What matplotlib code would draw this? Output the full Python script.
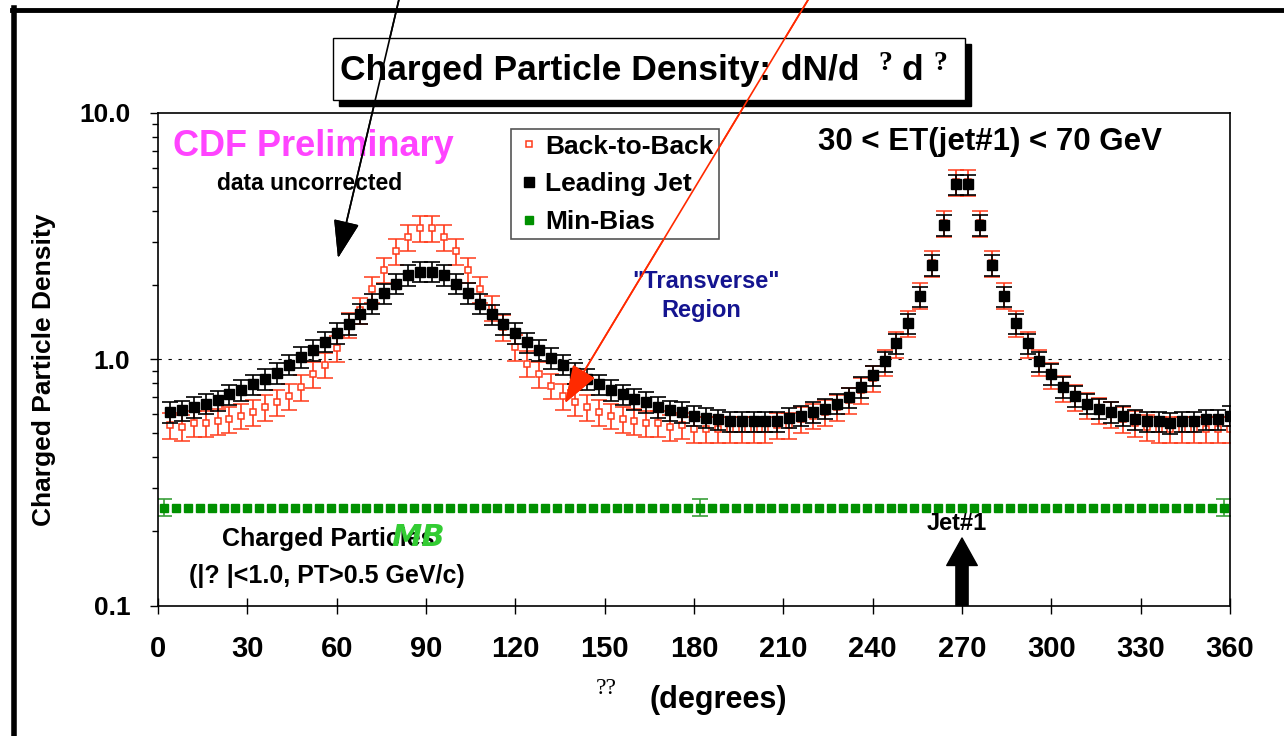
import matplotlib
matplotlib.use("Agg")
import matplotlib.pyplot as plt
from matplotlib.lines import Line2D
from matplotlib.patches import Rectangle

# data
phi = list(range(4, 361, 4))
leading_jet = [0.61, 0.62, 0.64, 0.66, 0.68, 0.72, 0.75, 0.79, 0.83, 0.88,
               0.95, 1.02, 1.09, 1.18, 1.28, 1.39, 1.53, 1.68, 1.85, 2.03,
               2.20, 2.27, 2.27, 2.20, 2.03, 1.86, 1.68, 1.52, 1.39, 1.28,
               1.17, 1.09, 1.01, 0.95, 0.88, 0.83, 0.79, 0.75, 0.72, 0.69,
               0.67, 0.64, 0.62, 0.61, 0.59, 0.58, 0.57, 0.56, 0.56, 0.56,
               0.56, 0.56, 0.58, 0.59, 0.61, 0.63, 0.66, 0.70, 0.77, 0.86,
               0.98, 1.16, 1.40, 1.80, 2.41, 3.51, 5.13, 5.13, 3.51, 2.41,
               1.80, 1.40, 1.16, 0.98, 0.87, 0.77, 0.71, 0.66, 0.63, 0.61,
               0.59, 0.57, 0.56, 0.56, 0.55, 0.56, 0.56, 0.57, 0.57, 0.59]
back_to_back = [0.54, 0.53, 0.55, 0.55, 0.56, 0.57, 0.59, 0.61, 0.64, 0.67,
                0.71, 0.77, 0.87, 0.95, 1.11, 1.38, 1.58, 1.93, 2.31, 2.75,
                3.14, 3.41, 3.41, 3.14, 2.75, 2.31, 1.93, 1.62, 1.35, 1.12,
                0.96, 0.87, 0.78, 0.71, 0.67, 0.64, 0.61, 0.59, 0.57, 0.56,
                0.55, 0.55, 0.53, 0.54, 0.52, 0.52, 0.52, 0.52, 0.52, 0.52,
                0.52, 0.54, 0.54, 0.57, 0.59, 0.61, 0.64, 0.68, 0.75, 0.84,
                0.97, 1.15, 1.40, 1.82, 2.45, 3.58, 5.25, 5.25, 3.58, 2.45,
                1.82, 1.40, 1.15, 0.97, 0.86, 0.76, 0.70, 0.65, 0.62, 0.60,
                0.57, 0.55, 0.53, 0.52, 0.52, 0.52, 0.52, 0.52, 0.52, 0.52]
jet_rel_err = 0.095
b2b_rel_err = 0.12

phi_mb = list(range(2, 360, 4))
min_bias = [0.25] * len(phi_mb)
phi_mb_err = [2, 182, 358]
min_bias_err = [0.25, 0.25, 0.25]
mb_err = 0.02

xticks = list(range(0, 361, 30))
yticks = [0.1, 1.0, 10.0]
ytick_labels = ["0.1", "1.0", "10.0"]

SANS = "Liberation Sans"

W, H = 1284, 736
fig = plt.figure(figsize=(W / 100, H / 100), dpi=100)
ax = fig.add_axes([158 / W, 1 - 605.5 / H, 1072 / W, 492.5 / H])


def apx(x, y):
    return ((x - 158) / 1072, (605.5 - y) / 492.5)


def fpx(x, y):
    return (x / W, 1 - y / H)


red = "#ff3a1a"
ax.errorbar(phi, back_to_back, yerr=[v * b2b_rel_err for v in back_to_back],
            fmt="s", ms=4, mfc="white", mec=red, mew=1.1, color=red,
            ecolor=red, elinewidth=1.2, capsize=5.8, capthick=1.2, zorder=2)
ax.errorbar(phi, leading_jet, yerr=[v * jet_rel_err for v in leading_jet],
            fmt="s", ms=7, color="black", ecolor="black", elinewidth=1.2,
            capsize=5.8, capthick=1.2, zorder=3)
ax.plot(phi_mb, min_bias, "s", ms=6.3, color="#009000", zorder=3)
ax.errorbar(phi_mb_err, min_bias_err, yerr=mb_err, fmt="none",
            ecolor="#3aa03a", elinewidth=1.2, capsize=5.8, capthick=1.2)

ax.axhline(1.0, color="black", lw=0.8, ls=(0, (3, 6)), zorder=1)

ax.set_yscale("log")
ax.set_ylim(0.1, 10)
ax.set_xlim(0, 360)
ax.set_xticks(xticks)
ax.set_xticklabels([str(t) for t in xticks], family=SANS, weight="bold", fontsize=21)
ax.set_yticks(yticks)
ax.set_yticklabels(ytick_labels, family=SANS, weight="bold", fontsize=19)
ax.tick_params(axis="x", direction="inout", length=12, width=1, pad=15)
ax.tick_params(axis="y", which="major", direction="out", length=6, width=1, pad=14)
ax.tick_params(axis="y", which="minor", direction="out", length=4, width=1)
for s in ax.spines.values():
    s.set_linewidth(1.2)

ax.set_ylabel("Charged Particle Density", family=SANS, weight="bold", fontsize=19)
ax.yaxis.set_label_coords(*apx(56, 370))

ax.text(*apx(718, 700), "(degrees)", transform=ax.transAxes, ha="center", va="center",
        family=SANS, weight="bold", fontsize=22)
ax.text(*apx(606, 688), "??", transform=ax.transAxes, ha="center", va="center",
        family="Liberation Serif", fontsize=17)

# legend
handles = [Line2D([], [], ls="none", marker="s", ms=4, mfc="white", mec=red, mew=1.1),
           Line2D([], [], ls="none", marker="s", ms=7, color="black"),
           Line2D([], [], ls="none", marker="s", ms=6, color="#009000")]
leg = ax.legend(handles, ["Back-to-Back", "Leading Jet", "Min-Bias"],
                loc="upper left", bbox_to_anchor=apx(510.7, 129.3), borderaxespad=0,
                fancybox=False, edgecolor="#555555", framealpha=1,
                prop=dict(family=SANS, weight="bold", size=19),
                borderpad=0.2, labelspacing=0.52, handlelength=1.0,
                handletextpad=0.1)
leg.get_frame().set_linewidth(1.2)

# annotations inside the plot
ax.text(*apx(313, 147), "CDF Preliminary", transform=ax.transAxes, ha="center",
        va="center", family=SANS, weight="bold", fontsize=26, color="#ff44ff")
ax.text(*apx(310, 184), "data uncorrected", transform=ax.transAxes, ha="center",
        va="center", family=SANS, weight="bold", fontsize=16.5)
ax.text(*apx(990, 142), "30 < ET(jet#1) < 70 GeV", transform=ax.transAxes,
        ha="center", va="center", family=SANS, weight="bold", fontsize=22.5)
ax.text(*apx(706, 281), "\"Transverse\"", transform=ax.transAxes, ha="center",
        va="center", family=SANS, weight="bold", fontsize=17, color="#141490")
ax.text(*apx(701, 311), "Region", transform=ax.transAxes, ha="center",
        va="center", family=SANS, weight="bold", fontsize=17, color="#141490")
ax.text(*apx(328, 539), "Charged Particles", transform=ax.transAxes, ha="center",
        va="center", family=SANS, weight="bold", fontsize=18)
ax.text(*apx(327, 576), "(|? |<1.0, PT>0.5 GeV/c)", transform=ax.transAxes,
        ha="center", va="center", family=SANS, weight="bold", fontsize=18)
# hand-drawn "MB" sits on top of "Particles" in the original slide
ax.text(*apx(418, 537), "MB", transform=ax.transAxes, ha="center", va="center",
        family="DejaVu Sans", style="italic", weight="bold", fontsize=22,
        color="#33cc33")
ax.text(*apx(957, 523), "Jet#1", transform=ax.transAxes, ha="center",
        va="center", family=SANS, weight="bold", fontsize=17)
ax.annotate("", xy=(270, 0.188), xytext=(270, 0.1),
            arrowprops=dict(arrowstyle="simple,head_length=0.9,head_width=1.0,tail_width=0.4",
                            fc="black", ec="black", mutation_scale=22, shrinkA=0, shrinkB=0))

# title box with shadow
x0, y0 = fpx(333, 100)
x1, y1 = fpx(965, 38)
fig.add_artist(Rectangle((x0 + 6 / W, y0 - 6 / H), x1 - x0, y1 - y0,
                         transform=fig.transFigure, fc="black", ec="black"))
fig.add_artist(Rectangle((x0, y0), x1 - x0, y1 - y0, transform=fig.transFigure,
                         fc="white", ec="black", lw=1))
fig.text(*fpx(340, 80), "Charged Particle Density: dN/d", ha="left", va="baseline",
         family=SANS, weight="bold", fontsize=25.5)
fig.text(*fpx(885, 70), "?", ha="center", va="baseline", family="Liberation Serif",
         weight="bold", fontsize=20)
fig.text(*fpx(901, 80), "d", ha="left", va="baseline", family=SANS, weight="bold",
         fontsize=25.5)
fig.text(*fpx(940, 70), "?", ha="center", va="baseline", family="Liberation Serif",
         weight="bold", fontsize=20)

# page frame
fig.add_artist(Line2D([14 / W, 14 / W], [0, 1 - 8 / H], transform=fig.transFigure,
                      color="black", lw=4))
fig.add_artist(Line2D([12 / W, 1], [1 - 10 / H, 1 - 10 / H], transform=fig.transFigure,
                      color="black", lw=3.5))

# pointer arrows from above
fig.add_artist(plt.annotate("", xy=fpx(338, 258), xytext=fpx(400, -5),
                            xycoords="figure fraction", textcoords="figure fraction",
                            arrowprops=dict(arrowstyle="-|>,head_length=1.6,head_width=0.55",
                                            mutation_scale=15, color="black", lw=1.2,
                                            shrinkA=0, shrinkB=0),
                            annotation_clip=False))
fig.add_artist(plt.annotate("", xy=fpx(565, 403), xytext=fpx(811, -5),
                            xycoords="figure fraction", textcoords="figure fraction",
                            arrowprops=dict(arrowstyle="-|>,head_length=1.6,head_width=0.55",
                                            mutation_scale=15, color="#ff2a00", lw=1.2,
                                            shrinkA=0, shrinkB=0),
                            annotation_clip=False))

fig.savefig("out.png", dpi=100)
